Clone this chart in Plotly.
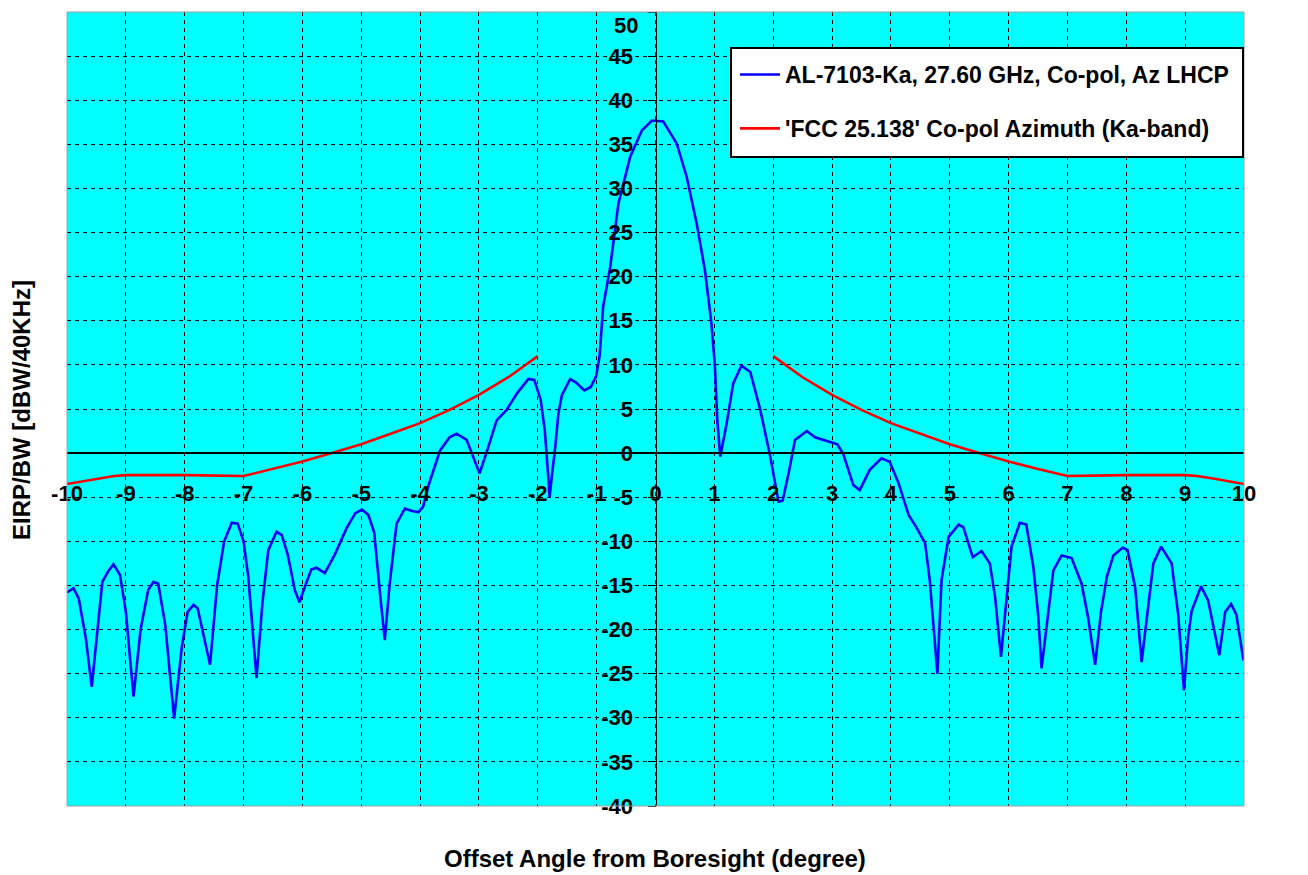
import plotly.graph_objects as go

# Measured antenna pattern (blue)
blue_x = [-10.0, -9.89, -9.80, -9.68, -9.58, -9.47, -9.40, -9.30, -9.21, -9.10, -9.00, -8.87, -8.75, -8.62,
          -8.53, -8.45, -8.33, -8.18, -8.05, -7.95, -7.85, -7.78, -7.67, -7.57, -7.45, -7.33, -7.20,
          -7.10, -7.00, -6.92, -6.78, -6.68, -6.58, -6.44, -6.35, -6.25, -6.13, -6.05, -5.95, -5.85,
          -5.76, -5.62, -5.45, -5.25, -5.10, -4.99, -4.88, -4.78, -4.68, -4.60, -4.52, -4.40, -4.26,
          -4.12, -4.03, -3.95, -3.85, -3.66, -3.50, -3.38, -3.21, -3.10, -2.99, -2.85, -2.70, -2.53,
          -2.35, -2.16, -2.06, -1.95, -1.88, -1.83, -1.80, -1.76, -1.71, -1.65, -1.59, -1.45, -1.35,
          -1.21, -1.10, -1.01, -0.95, -0.89, -0.77, -0.63, -0.43, -0.23, -0.06, 0.13, 0.36, 0.53,
          0.70, 0.84, 0.95, 1.01, 1.05, 1.10, 1.21, 1.32, 1.46, 1.61, 1.78, 1.95, 2.09, 2.16, 2.27,
          2.37, 2.57, 2.71, 2.91, 3.09, 3.19, 3.36, 3.47, 3.64, 3.84, 3.98, 4.13, 4.30, 4.44, 4.58,
          4.66, 4.72, 4.79, 4.86, 4.98, 5.15, 5.23, 5.39, 5.54, 5.68, 5.77, 5.87, 5.97, 6.05, 6.19,
          6.30, 6.42, 6.50, 6.56, 6.67, 6.76, 6.90, 7.07, 7.24, 7.35, 7.47, 7.57, 7.67, 7.78, 7.94,
          8.02, 8.15, 8.26, 8.35, 8.46, 8.59, 8.77, 8.88, 8.98, 9.05, 9.11, 9.27, 9.39, 9.58, 9.68,
          9.78, 9.87, 9.99]
blue_y = [-15.8, -15.3, -16.5, -21.0, -26.5, -19.0, -14.6, -13.4, -12.6, -13.8, -18.0, -27.6, -20.0, -15.5,
          -14.6, -14.8, -19.5, -30.1, -22.0, -18.0, -17.2, -17.6, -21.0, -24.0, -15.0, -10.0, -7.9,
          -8.0, -10.0, -14.0, -25.5, -17.0, -11.0, -8.9, -9.3, -11.5, -15.5, -16.9, -15.0, -13.2,
          -13.0, -13.6, -11.5, -8.5, -6.8, -6.4, -7.0, -9.0, -16.0, -21.2, -15.0, -8.0, -6.3,
          -6.6, -6.7, -6.1, -3.5, 0.3, 1.8, 2.2, 1.5, -0.5, -2.3, 0.5, 3.7, 4.9,
          6.8, 8.4, 8.3, 6.0, 2.5, -2.0, -5.0, -2.5, 0.3, 4.5, 6.6, 8.4, 8.0,
          7.1, 7.5, 8.7, 11.0, 16.6, 21.1, 28.3, 33.6, 36.6, 37.7, 37.6, 35.1, 31.3,
          26.0, 20.7, 14.7, 9.8, 3.7, -0.4, 3.4, 7.9, 9.9, 9.2, 4.9, -0.4, -5.5, -5.4, -2.0,
          1.5, 2.5, 1.8, 1.4, 1.0, -0.1, -3.6, -4.2, -1.9, -0.6, -1.0, -3.4, -7.0, -8.5, -10.2,
          -14.4, -18.9, -25.0, -14.4, -9.5, -8.1, -8.4, -11.8, -11.1, -12.5, -16.3, -23.1, -15.9, -10.6, -7.9,
          -8.1, -12.9, -18.2, -24.4, -18.2, -13.3, -11.6, -11.9, -14.8, -18.6, -24.0, -18.0, -14.0, -11.6, -10.7,
          -11.0, -15.2, -23.7, -18.6, -12.5, -10.6, -12.5, -18.2, -26.9, -20.8, -17.9, -15.1, -16.7, -22.9, -18.0,
          -17.1, -18.3, -23.5]

# FCC 25.138 mask (red), two segments
fcc_left_x = [-10.0, -9.5, -9.2, -9.0, -8.0, -7.0, -6.5, -6.0, -5.5, -5.0, -4.5, -4.0, -3.5, -3.0, -2.5, -2.0]
fcc_left_y = [-3.5, -2.9, -2.6, -2.5, -2.5, -2.6, -1.8, -0.95, 0.0, 1.0, 2.2, 3.4, 4.9, 6.6, 8.6, 11.0]
fcc_right_x = [2.0, 2.5, 3.0, 3.5, 4.0, 4.5, 5.0, 5.5, 6.0, 6.5, 7.0, 8.0, 9.0, 9.2, 9.5, 10.0]
fcc_right_y = [11.0, 8.6, 6.6, 4.9, 3.4, 2.2, 1.0, 0.0, -0.95, -1.8, -2.6, -2.5, -2.5, -2.6, -2.9, -3.5]

x_ticks = list(range(-10, 11))
y_ticks = list(range(-40, 51, 5))

XMIN, XMAX, YMIN, YMAX = -10, 10, -40, 50

FONT = "Liberation Sans, Arial, sans-serif"
# plot area in screen pixels (page body adds an 8px offset)
PW, PH, L, T = 1177, 794, 67, 12
OFF = 8


def px(xp):
    return (xp - L) / PW


def py(yp):
    return (T + PH - yp) / PH


fig = go.Figure()
fig.add_trace(go.Scatter(x=blue_x, y=blue_y, mode="lines", line=dict(color="#0000FF", width=2.6),
                         name="<b>AL-7103-Ka, 27.60 GHz, Co-pol, Az LHCP</b>", legendgroup="a"))
fig.add_trace(go.Scatter(x=fcc_left_x + [None] + fcc_right_x, y=fcc_left_y + [None] + fcc_right_y,
                         mode="lines", line=dict(color="#FF0000", width=2.6), connectgaps=False,
                         name="<b>'FCC 25.138' Co-pol Azimuth (Ka-band)</b>", legendgroup="b"))

# the top tick label (at the very top edge) is written as a text label so it stays visible
y_label_vals = [v for v in y_ticks if v != YMAX]

ml, mt = L - OFF, T - OFF
fig.update_layout(
    width=1308, height=875,
    margin=dict(l=ml, r=1308 - ml - PW, t=mt, b=875 - mt - PH, autoexpand=False),
    paper_bgcolor="white", plot_bgcolor="#00FFFF",
    font=dict(family=FONT, color="black", size=22),
    showlegend=True,
    legend=dict(x=px(735), y=py(53), xanchor="left", yanchor="top",
                bgcolor="rgba(0,0,0,0)", borderwidth=0,
                font=dict(family=FONT, size=23, color="black"),
                traceorder="grouped", tracegroupgap=21, itemwidth=40),
    xaxis=dict(range=[XMIN, XMAX], tickvals=x_ticks, ticktext=[f"<b>{v}</b>" for v in x_ticks],
               anchor="free", position=(0 - YMIN) / (YMAX - YMIN), automargin=False,
               ticklabeloverflow="allow",
               showgrid=True, gridcolor="black", gridwidth=1, griddash="4px,4px",
               zeroline=False, showline=True, linecolor="black", linewidth=2,
               ticks="", ticklabelstandoff=20, tickfont=dict(size=22)),
    yaxis=dict(range=[YMIN, YMAX], tickvals=y_label_vals, ticktext=[f"<b>{v}</b>" for v in y_label_vals],
               anchor="free", position=(0 - XMIN) / (XMAX - XMIN), automargin=False,
               ticklabeloverflow="allow",
               showgrid=True, gridcolor="black", gridwidth=1, griddash="4px,4px",
               zeroline=False, showline=True, linecolor="black", linewidth=1,
               ticks="outside", ticklen=8, tickcolor="black", ticklabelstandoff=10,
               tickfont=dict(size=22)),
)

# plot frame
fig.add_shape(type="rect", xref="paper", yref="paper", x0=0, x1=1, y0=0, y1=1,
              line=dict(color="#A0A0A0", width=1))
# legend box
fig.add_shape(type="rect", xref="paper", yref="paper", x0=px(731), x1=px(1243), y0=py(157), y1=py(48),
              line=dict(color="black", width=2), fillcolor="white", layer="above")
# top tick mark on the y axis
fig.add_shape(type="line", xref="x", yref="y", x0=0, x1=-8 / (PW / (XMAX - XMIN)), y0=YMAX, y1=YMAX,
              line=dict(color="black", width=1))
fig.add_annotation(text=f"<b>{YMAX}</b>", xref="x", yref="paper", x=0, y=1.0,
                   xanchor="right", yanchor="top", xshift=-17, showarrow=False,
                   font=dict(family=FONT, size=22, color="black"), borderpad=0)

fig.add_annotation(text="<b>Offset Angle from Boresight (degree)</b>", xref="paper", yref="paper",
                   x=px(655), y=py(858), xanchor="center", yanchor="middle",
                   showarrow=False, font=dict(family=FONT, size=24, color="black"))
fig.add_annotation(text="<b>EIRP/BW [dBW/40KHz]</b>", xref="paper", yref="paper",
                   x=px(22), y=py(410), xanchor="center", yanchor="middle",
                   textangle=-90, showarrow=False, font=dict(family=FONT, size=24, color="black"))

fig.write_html("out.html")
